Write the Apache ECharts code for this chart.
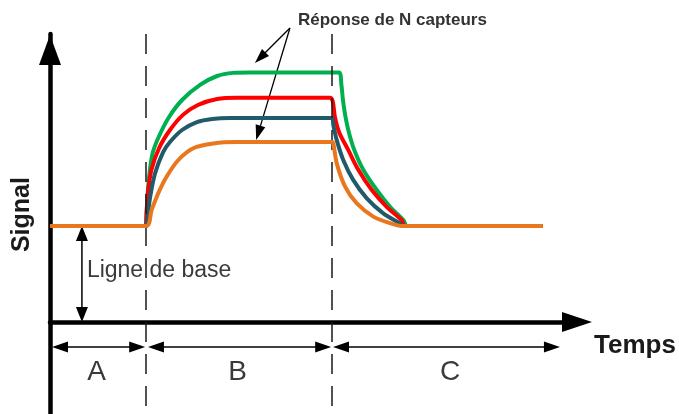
<!DOCTYPE html>
<html>
<head>
<meta charset="utf-8">
<title>Réponse de N capteurs</title>
<script src="https://cdn.jsdelivr.net/npm/echarts@6/dist/echarts.min.js"></script>
<style>
  html, body { margin: 0; padding: 0; background: #fff; }
  #main { width: 679px; height: 414px; }
</style>
</head>
<body>
<div id="main"></div>
<script>
// time in arbitrary units, signal in arbitrary units (baseline = 4)
var phaseBounds = [0, 31, 91, 164.5];      // A | B | C
var phaseNames = ['A', 'B', 'C'];
var baseline = 4;

var greenResp = [[0,4],[31,4],[31.1,4.2],[31.5,5.38],[32.3,6.42],[33.2,7.08],[35.2,7.75],[38.4,8.54],[42.6,9.25],[48.4,9.88],[53.9,10.25],[59.0,10.38],[64.5,10.4],[93.2,10.4],[94.0,9.88],[94.5,9.25],[95.5,8.42],[96.8,7.71],[98.4,7.08],[101.1,6.33],[105.4,5.5],[109.7,4.8],[114.0,4.25],[115.2,4],[159,4]];
var redResp = [[0,4],[31,4],[31.05,4.33],[31.6,5.38],[32.7,6.33],[35.2,7.25],[38.7,8.0],[42.9,8.63],[47.7,9.04],[53.9,9.29],[60.3,9.34],[90.3,9.34],[91.2,9.2],[91.9,8.55],[93.3,7.9],[96.2,7.17],[99.5,6.33],[103.8,5.5],[108.6,4.8],[113.4,4.25],[114.6,4],[159,4]];
var tealResp = [[0,4],[31,4],[31.2,4.12],[32.3,5.2],[33.9,6.2],[36.5,7.08],[38.7,7.5],[42.6,8.0],[47.4,8.33],[52.3,8.46],[58.1,8.5],[91.0,8.5],[91.4,8.2],[92.5,7.58],[94.6,6.75],[97.8,5.92],[102.2,5.15],[107.5,4.53],[112.9,4.11],[114,4],[159,4]];
var orangeResp = [[0,4],[31,4],[32.8,4.67],[34.9,5.36],[37.6,6.05],[41.4,6.75],[46.2,7.24],[52.7,7.44],[60.2,7.5],[91.0,7.5],[91.4,7.44],[92.5,6.61],[95.2,5.64],[98.9,4.95],[104.3,4.39],[109.7,4.12],[113.4,4],[159,4]];

// annotation anchors (data units)
var baseArrowT = 10.3;
var dimArrowV = -1.04;
var letterV = -2.08;
var calloutFrom = [77.4, 12.25];
var calloutTips = [[66.1, 10.79], [66.5, 7.58]];

var chart = echarts.init(document.getElementById('main'));
var font = '"Liberation Sans", Arial, sans-serif';

function resp(name, data, color, z) {
  return {
    name: name, type: 'line', data: data, z: z,
    showSymbol: false, smooth: 0.3,
    lineStyle: { color: color, width: 4 },
    animation: false, silent: true
  };
}

var series = [
  resp('vert', greenResp, '#00B050', 2),
  resp('rouge', redResp, '#FF0000', 3),
  resp('bleu', tealResp, '#215A6A', 4),
  resp('orange', orangeResp, '#E8771E', 5)
];
series[3].markLine = {
  silent: true, symbol: ['none', 'none'], animation: false,
  label: { show: false },
  lineStyle: { color: '#1a1a1a', width: 1.5, type: [20, 12] },
  data: [
    [{ coord: [phaseBounds[1], 12] }, { coord: [phaseBounds[1], -3.8] }],
    [{ coord: [phaseBounds[2], 12] }, { coord: [phaseBounds[2], -3.8] }]
  ]
};

chart.setOption({
  animation: false,
  grid: { left: 50, right: 102, top: 34, bottom: 0.8 },
  xAxis: {
    type: 'value', min: 0, max: 170,
    axisLine: { onZero: true, lineStyle: { color: '#000', width: 4.5 }, symbol: ['none', 'triangle'], symbolSize: [20, 30] },
    axisTick: { show: false }, axisLabel: { show: false }, splitLine: { show: false }
  },
  yAxis: {
    type: 'value', min: -3.8, max: 12,
    name: 'Signal', nameLocation: 'middle', nameRotate: 90, nameGap: 15,
    nameTextStyle: { fontFamily: font, fontWeight: 'bold', fontSize: 25, color: '#1a1a1a', padding: [0, 0, 0, 18] },
    axisLine: { lineStyle: { color: '#000', width: 4.5 }, symbol: ['none', 'triangle'], symbolSize: [22, 30], symbolOffset: [0, -16] },
    axisTick: { show: false }, axisLabel: { show: false }, splitLine: { show: false }
  },
  series: series
});

function px(t, v) { return chart.convertToPixel({ gridIndex: 0 }, [t, v]); }

// arrow from a to b (pixels), heads at the listed ends
function arrow(a, b, heads, len, wid, lw) {
  var dx = b[0] - a[0], dy = b[1] - a[1];
  var d = Math.sqrt(dx * dx + dy * dy), ux = dx / d, uy = dy / d;
  var s = heads.indexOf('start') >= 0 ? len * 0.8 : 0;
  var e = heads.indexOf('end') >= 0 ? len * 0.8 : 0;
  var out = [{
    type: 'line', silent: true,
    shape: { x1: a[0] + ux * s, y1: a[1] + uy * s, x2: b[0] - ux * e, y2: b[1] - uy * e },
    style: { stroke: '#000', lineWidth: lw }
  }];
  function head(tip, dirx, diry) {
    var bx = tip[0] - dirx * len, by = tip[1] - diry * len;
    return {
      type: 'polygon', silent: true,
      shape: { points: [tip, [bx - diry * wid / 2, by + dirx * wid / 2], [bx + diry * wid / 2, by - dirx * wid / 2]] },
      style: { fill: '#000' }
    };
  }
  if (e) out.push(head(b, ux, uy));
  if (s) out.push(head(a, -ux, -uy));
  return out;
}

function text(str, p, opts) {
  return {
    type: 'text', silent: true, z: 10,
    style: Object.assign({
      text: str, x: p[0], y: p[1], fill: '#3a3a3a',
      font: '23px ' + font,
      align: 'center', verticalAlign: 'middle',
      textAlign: 'center', textVerticalAlign: 'middle'
    }, opts || {})
  };
}

var g = [];
// ligne de base
g = g.concat(arrow(px(baseArrowT, baseline), px(baseArrowT, 0), ['start', 'end'], 15, 12, 1.5));
g.push(text('Ligne de base', px(11.9, 2.125), { align: 'left', textAlign: 'left' }));
// phases
var tipGap = [0.65, 0.6, 0.3];
for (var i = 0; i < phaseNames.length; i++) {
  var t0 = phaseBounds[i] + tipGap[i], t1 = phaseBounds[i + 1] - (i === 2 ? 0 : 0.3);
  g = g.concat(arrow(px(t0, dimArrowV), px(t1, dimArrowV), ['start', 'end'], 16, 11, 1.5));
  g.push(text(phaseNames[i], px((phaseBounds[i] + phaseBounds[i + 1]) / 2 + (i === 2 ? 1.3 : -0.5), letterV), { font: '28px ' + font }));
}
// callout
calloutTips.forEach(function (tip) {
  g = g.concat(arrow(px(calloutFrom[0], calloutFrom[1]), px(tip[0], tip[1]), ['end'], 15, 10, 1.3));
});
g.push(text('Réponse de N capteurs', px(80, 12.58), { font: 'bold 17px ' + font, fill: '#333', align: 'left', textAlign: 'left' }));
// axis title
g.push(text('Temps', px(175.5, -0.98), { font: 'bold 26px ' + font, fill: '#1a1a1a', align: 'left', textAlign: 'left' }));

chart.setOption({ graphic: { elements: g } });
</script>
</body>
</html>
